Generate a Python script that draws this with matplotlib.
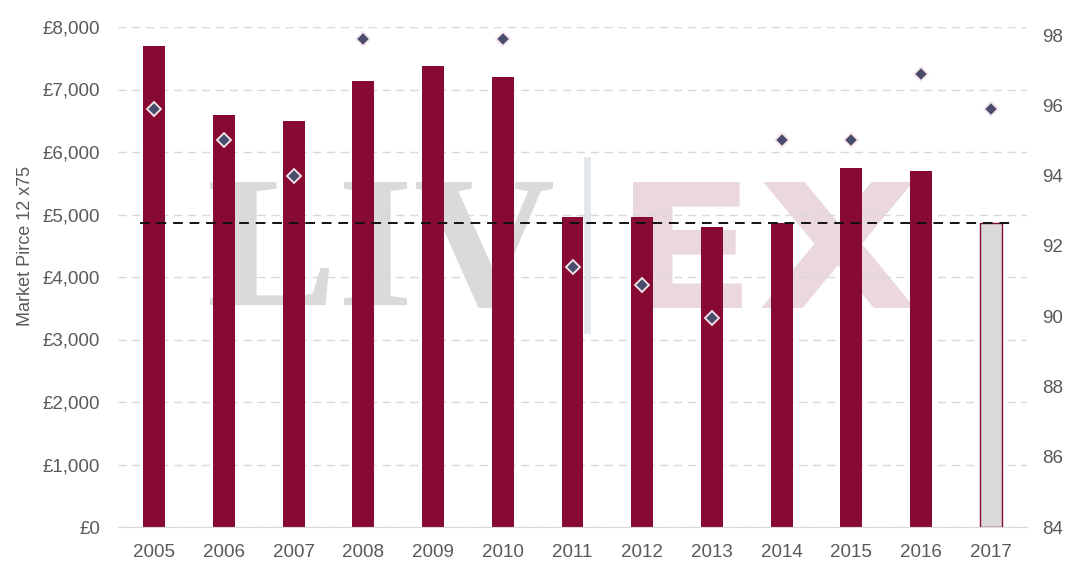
import matplotlib
matplotlib.use("Agg")
import matplotlib.pyplot as plt
from matplotlib.textpath import TextPath
from matplotlib.patches import PathPatch
from matplotlib.font_manager import FontProperties
from matplotlib.transforms import Affine2D
from matplotlib.ticker import FuncFormatter, MultipleLocator

# ---- data ----
years = ["2005", "2006", "2007", "2008", "2009", "2010", "2011",
         "2012", "2013", "2014", "2015", "2016", "2017"]
market_price = [7700, 6600, 6500, 7140, 7380, 7200, 4960,
                4960, 4800, 4870, 5750, 5700, 4870]
scores = [95.9, 95, 94, 97.9, None, 97.9, 91.4, 90.9, 89.95, 95, 95, 96.9, 95.9]
average_price = 4860

plt.rcParams['font.family'] = ['Liberation Sans', 'DejaVu Sans']

BAR = '#870a32'
GREY_TXT = '#595959'
GRID = '#d9d9d9'

fig = plt.figure(figsize=(10.8, 5.65), dpi=100)
ax = fig.add_axes([118/1080, 1-527/565, (1027-118)/1080, 500/565])
ax2 = ax.twinx()

x = list(range(len(years)))
colors = [BAR]*(len(years)-1) + ['#d9d9d9']
ax.bar(x, market_price, width=0.315, color=colors, edgecolor=BAR,
       linewidth=[0]*(len(years)-1) + [1.0], zorder=2)

ax.set_xlim(-0.52, len(years)-1+0.52)
ax.set_ylim(0, 8000)
ax.yaxis.set_major_locator(MultipleLocator(1000))
ax.yaxis.set_major_formatter(FuncFormatter(lambda v, p: f"£{int(v):,}"))
ax.set_xticks(x)
ax.set_xticklabels(years)
ax.grid(axis='y', color=GRID, linestyle=(0, (6, 4)), linewidth=1.0)
ax.set_axisbelow(True)
for s in ['top', 'right', 'left']:
    ax.spines[s].set_visible(False)
ax.spines['bottom'].set_color(GRID)
ax.tick_params(axis='both', length=0, labelsize=13.5, colors=GREY_TXT)
ax.tick_params(axis='x', pad=12.5)
ax.tick_params(axis='y', pad=13)
ax.set_ylabel("Market Pirce 12 x75", fontsize=13, color=GREY_TXT)
ax.yaxis.set_label_coords(-0.102, 0.562)
ax.yaxis.label.set_va('center')

# average dashed line
ax.hlines(average_price, -0.2, len(years)-1+0.3, colors='#111111',
          linestyles=(0, (5, 3.5)), linewidth=1.4, zorder=3)

# secondary axis: scores
sx = [xi for xi, s in zip(x, scores) if s is not None]
sy = [s for s in scores if s is not None]
ax2.plot(sx, sy, linestyle='none', marker='D', markersize=7.5,
         markerfacecolor='#4b4d6d', markeredgecolor='#f6e6ec',
         markeredgewidth=1.3, zorder=5)
ax2.set_ylim(84, 98.23)
ax2.set_yticks([84, 86, 88, 90, 92, 94, 96, 98])
for s in ['top', 'right', 'left', 'bottom']:
    ax2.spines[s].set_visible(False)
ax2.tick_params(axis='y', length=0, labelsize=13.5, colors=GREY_TXT, pad=11)

# watermark "LIV | EX"
def place_text(s, fp, box, color, z):
    tp = TextPath((0, 0), s, size=100, prop=fp)
    ext = tp.get_extents()
    x0, y0, x1, y1 = box  # pixel coords (top-left origin)
    fx0, fx1 = x0/1080, x1/1080
    fy0, fy1 = 1-y1/565, 1-y0/565
    sxs = (fx1-fx0)/ext.width
    sys_ = (fy1-fy0)/ext.height
    tr = Affine2D().translate(-ext.x0, -ext.y0).scale(sxs, sys_).translate(fx0, fy0)
    patch = PathPatch(tr.transform_path(tp), facecolor=color, edgecolor='none',
                      transform=fig.transFigure, zorder=z, clip_on=False)
    ax.add_artist(patch)

place_text("LIV", FontProperties(family='Liberation Serif', weight='bold'),
           (210, 182, 553, 308), '#dadada', 0.2)
place_text("EX", FontProperties(family='DejaVu Sans', weight='bold'),
           (633, 182, 915, 308), '#ebd7de', 0.2)
ax.add_artist(plt.Line2D([587/1080, 587/1080], [1-160/565, 1-330/565],
                         transform=fig.transFigure, color='#e4e7eb',
                         linewidth=5, zorder=0.2))

fig.savefig("out.png", dpi=100)
